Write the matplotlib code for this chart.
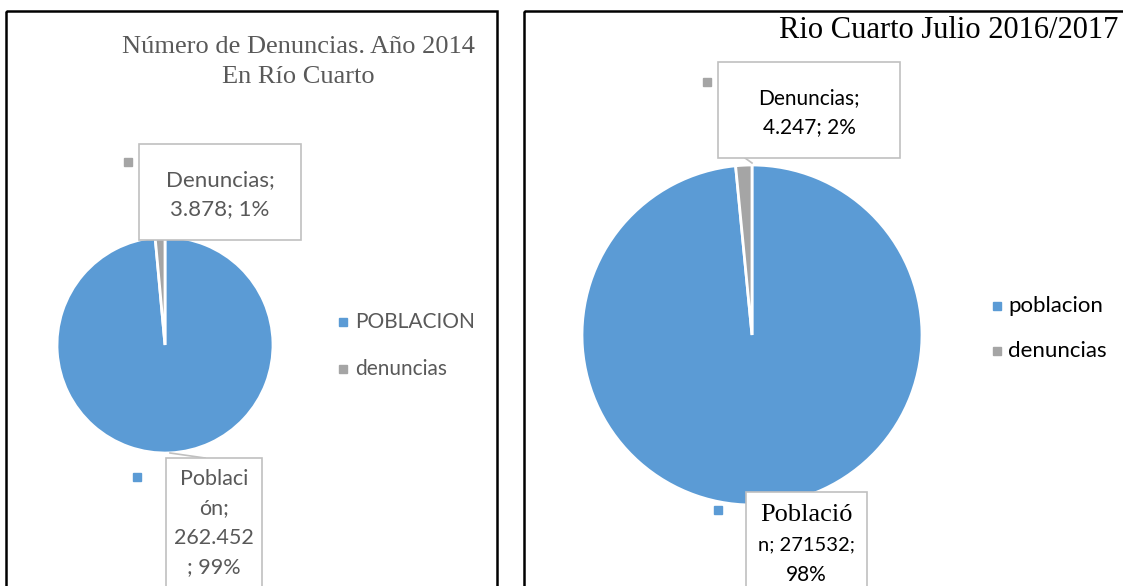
import matplotlib
matplotlib.use("Agg")
import matplotlib.pyplot as plt
from matplotlib.patches import Rectangle

# datos
labels_2014 = ["POBLACION", "denuncias"]
values_2014 = [262452, 3878]
title_2014 = "Número de Denuncias. Año 2014\nEn Río Cuarto"

labels_2017 = ["poblacion", "denuncias"]
values_2017 = [271532, 4247]
title_2017 = "Rio Cuarto Julio 2016/2017"

colors = ["#5B9BD5", "#A5A5A5"]
W, H = 1123, 586
SANS = "Lato"
SERIF = "Liberation Serif"

fig = plt.figure(figsize=(W / 100, H / 100), dpi=100)


def px_axes(x0, y0, x1, y1, **kw):
    # ejes en coordenadas de pixel (y hacia abajo)
    return fig.add_axes([x0 / W, 1 - y1 / H, (x1 - x0) / W, (y1 - y0) / H], **kw)


bg = px_axes(0, 0, W, H)
bg.set_xlim(0, W)
bg.set_ylim(H, 0)
bg.axis("off")
# marcos de los dos graficos
bg.add_patch(Rectangle((6, 11), 491, 600, fill=False, ec="black", lw=1.8))
bg.add_patch(Rectangle((524, 11), 620, 600, fill=False, ec="black", lw=1.8))


def draw_pie(values, cx, cy, r):
    ax = px_axes(cx - r, cy - r, cx + r, cy + r)
    ax.pie(values, colors=colors, startangle=90, counterclock=False,
           wedgeprops=dict(edgecolor="white", linewidth=2))
    ax.set_xlim(-1, 1)
    ax.set_ylim(-1, 1)
    ax.set_aspect("equal")
    ax.axis("off")


draw_pie(values_2014, 165, 345, 108)
draw_pie(values_2017, 752, 335, 170)

ov = px_axes(0, 0, W, H)
ov.set_xlim(0, W)
ov.set_ylim(H, 0)
ov.axis("off")
ov.patch.set_alpha(0)


def pct(vals, i):
    return round(100 * vals[i] / sum(vals))


def miles(v):
    return f"{v:,}".replace(",", ".")


def callout(x0, y0, x1, y1, lines, color, font, size, line_h, ty):
    ov.add_patch(Rectangle((x0, y0), x1 - x0, y1 - y0, fc="white", ec="#C0C0C0", lw=1.2, zorder=3))
    tx = (x0 + x1) / 2
    for k, ln in enumerate(lines):
        fam = font[k] if isinstance(font, list) else font
        sz = size[k] if isinstance(size, list) else size
        ov.text(tx, ty + k * line_h, ln, ha="center", va="center", color=color,
                fontsize=sz, family=fam, zorder=4)


# --- 2014 ---
gray_txt = "#595959"
ov.text(298, 62, title_2014, ha="center", va="center", color=gray_txt,
        fontsize=19, family=SERIF, linespacing=1.45)
ov.plot([162, 164], [240, 238], color="#A5A5A5", lw=1)
callout(139, 144, 301, 240,
        [f"Denuncias;", f"{miles(values_2014[1])}; {pct(values_2014, 1)}%"],
        gray_txt, SANS, 16, 29, ty=180)
ov.plot(128, 162, "s", color=colors[1], ms=6)
ov.plot([170, 205], [453, 458], color="#C0C0C0", lw=1.2)
callout(166, 458, 262, 640,
        ["Poblaci", "ón;", miles(values_2014[0]), f"; {pct(values_2014, 0)}%"],
        gray_txt, SANS, 15.5, 29.5, ty=479)
ov.plot(137, 477, "s", color=colors[0], ms=6)
for k, lab in enumerate(labels_2014):
    ov.plot(343, 322 + 47 * k, "s", color=colors[k], ms=6)
    ov.text(355, 322 + 47 * k, lab, ha="left", va="center", color=gray_txt,
            fontsize=15, family=SANS)

# --- 2016/2017 ---
ov.text(1118, 30, title_2017, ha="right", va="center", color="black",
        fontsize=22, family=SERIF)
ov.plot([745, 752], [158, 163], color="#C0C0C0", lw=1.2)
callout(718, 62, 900, 158,
        ["Denuncias;", f"{miles(values_2017[1])}; {pct(values_2017, 1)}%"],
        "black", SANS, 15, 29, ty=98)
ov.plot(707, 82, "s", color=colors[1], ms=6)
callout(746, 492, 867, 640,
        ["Poblaci\u00f3", f"n; {values_2017[0]};", f"{pct(values_2017, 0)}%"],
        "black", [SERIF, SANS, SANS], [19, 14.5, 15], 30, ty=515)
ov.plot(718, 510, "s", color=colors[0], ms=6)
for k, lab in enumerate(labels_2017):
    ov.plot(997, 306 + 45 * k, "s", color=colors[k], ms=6)
    ov.text(1008, 306 + 45 * k, lab, ha="left", va="center", color="black",
            fontsize=16, family=SANS)

fig.savefig("out.png", dpi=100)
